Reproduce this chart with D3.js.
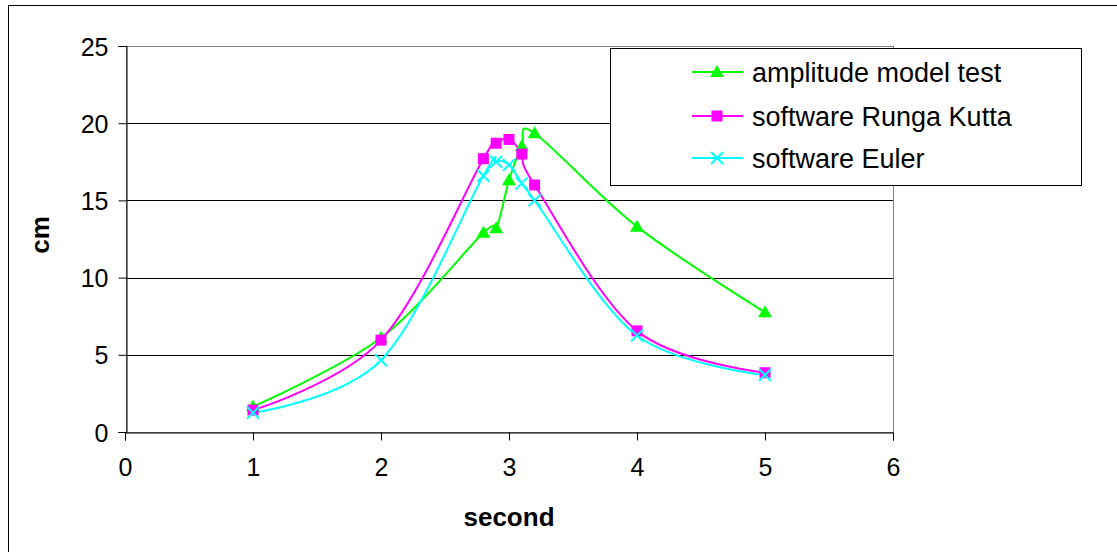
<!DOCTYPE html>
<html><head><meta charset="utf-8">
<script src="https://cdn.jsdelivr.net/npm/d3@7"></script>
<style>body{margin:0;background:#fff}svg{display:block;font-family:"Liberation Sans",Arial,sans-serif}</style>
</head><body><svg id="c" width="1117" height="552"></svg>
<script>
const xTicks = [0,1,2,3,4,5,6];
const yTicks = [0,5,10,15,20,25];
const seriesNames = ["amplitude model test","software Runga Kutta","software Euler"];
const xModel = [1,2,2.8,2.9,3.0,3.1,3.2,4,5];
const yModel = [1.65,6.1,12.9,13.2,16.3,18.5,19.35,13.3,7.75];
const xRK = [1,2,2.8,2.9,3.0,3.1,3.2,4,5];
const yRK = [1.42,5.95,17.7,18.7,18.95,18.0,16.0,6.55,3.84];
const xEuler = [1,2,2.8,2.9,3.0,3.1,3.2,4,5];
const yEuler = [1.25,4.65,16.6,17.5,17.3,16.1,15.0,6.25,3.69];

const colors = ["#00ff00","#ff00ff","#00ffff"];
const markers = ["tri","sq","x"];
const series = [
  {name:seriesNames[0], xs:xModel, ys:yModel},
  {name:seriesNames[1], xs:xRK, ys:yRK},
  {name:seriesNames[2], xs:xEuler, ys:yEuler}
];

const svg = d3.select("#c");
const L=126, R=893, T=46, B=432;
const x = d3.scaleLinear().domain([0,6]).range([L-1,R]);
const y = d3.scaleLinear().domain([0,25]).range([B,T]);

// outer frame
svg.append("rect").attr("x",8.5).attr("y",5.5).attr("width",1200).attr("height",600)
  .attr("fill","none").attr("stroke","#000").attr("stroke-width",1);

// gridlines
svg.append("g").selectAll("line").data(yTicks.filter(d=>d>0&&d<25)).join("line")
  .attr("x1",L).attr("x2",R).attr("y1",d=>Math.round(y(d))+0.5).attr("y2",d=>Math.round(y(d))+0.5)
  .attr("stroke","#000").attr("stroke-width",1);
// plot border (gray)
svg.append("rect").attr("x",L+0.5).attr("y",T+0.5).attr("width",R-L).attr("height",B-T)
  .attr("fill","none").attr("stroke","#808080").attr("stroke-width",1);

// axes
const xAxis = d3.axisBottom(x).tickValues(xTicks).tickSize(8).tickPadding(18).tickFormat(d3.format("d"));
const gx = svg.append("g").attr("transform",`translate(0,${B+0.5})`).call(xAxis);
const yAxis = d3.axisLeft(y).tickValues(yTicks).tickSize(8).tickPadding(10).tickFormat(d3.format("d"));
const gy = svg.append("g").attr("transform",`translate(${L+0.5},0)`).call(yAxis);
[gx,gy].forEach(g=>{
  g.selectAll(".domain").attr("stroke","#000");
  g.selectAll(".tick line").attr("stroke","#000");
  g.selectAll("text").attr("font-size",25).attr("fill","#000").attr("font-family","Liberation Sans, Arial, sans-serif");
});
gy.selectAll(".tick text").attr("dy","0.36em");

// axis titles
svg.append("text").attr("x",(x(0)+x(6))/2).attr("y",526).attr("text-anchor","middle")
  .attr("font-size",26).attr("font-weight","bold").text("second");
svg.append("text").attr("transform","translate(49,235) rotate(-90)").attr("text-anchor","middle")
  .attr("font-size",26).attr("font-weight","bold").text("cm");

function drawMarker(g, type, color, cx, cy){
  if(type==="tri"){
    g.append("path").attr("d",`M${cx},${cy-7}L${cx+7},${cy+5}L${cx-7},${cy+5}Z`).attr("fill",color);
  } else if(type==="sq"){
    g.append("rect").attr("x",cx-5.5).attr("y",cy-5.5).attr("width",11).attr("height",11).attr("fill",color);
  } else {
    g.append("path").attr("d",`M${cx-6},${cy-6}L${cx+6},${cy+6}M${cx+6},${cy-6}L${cx-6},${cy+6}`)
      .attr("stroke",color).attr("stroke-width",2);
  }
}

const line = d3.line().x(d=>x(d[0])).y(d=>y(d[1])).curve(d3.curveCatmullRom.alpha(0));
series.forEach((s,i)=>{
  const pts = s.xs.map((v,j)=>[v,s.ys[j]]);
  svg.append("path").datum(pts).attr("d",line).attr("fill","none")
    .attr("stroke",colors[i]).attr("stroke-width",2);
});
series.forEach((s,i)=>{
  const g = svg.append("g");
  s.xs.forEach((v,j)=>drawMarker(g, markers[i], colors[i], x(v), y(s.ys[j])));
});

// legend
const lg = svg.append("g");
lg.append("rect").attr("x",610.5).attr("y",48.5).attr("width",471).attr("height",137)
  .attr("fill","#fff").attr("stroke","#000").attr("stroke-width",1);
const rowsY = [72,116,158];
series.forEach((s,i)=>{
  lg.append("line").attr("x1",692).attr("x2",743).attr("y1",rowsY[i]).attr("y2",rowsY[i])
    .attr("stroke",colors[i]).attr("stroke-width",2);
  drawMarker(lg, markers[i], colors[i], 717, rowsY[i]);
  lg.append("text").attr("x",752).attr("y",rowsY[i]).attr("dy","0.36em")
    .attr("font-size",27).text(s.name);
});
</script></body></html>
